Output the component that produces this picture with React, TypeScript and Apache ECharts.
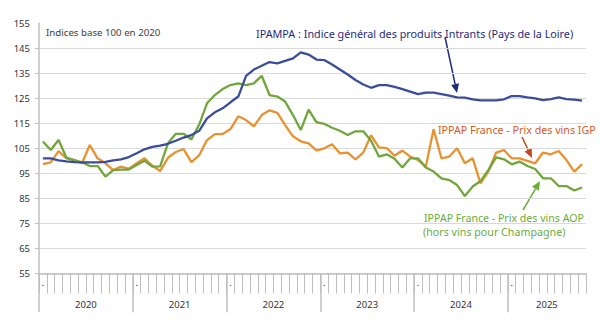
import React, { useEffect, useRef } from 'react';
import * as echarts from 'echarts';

const years = ['2020', '2021', '2022', '2023', '2024', '2025'];
const monthsInLastYear = 10;

// IPAMPA : Indice général des produits Intrants (Pays de la Loire)
const ipampa = [
  101, 101, 100.2, 99.8, 99.5, 99.4, 99.4, 99.4, 99.6, 100.2, 100.6, 101.5,
  103, 104.6, 105.6, 106.1, 106.8, 108, 109.3, 110.3, 112, 117, 119.4, 121,
  123.4, 125.7, 134, 136.5, 138, 139.5, 139, 140, 141, 143.4, 142.5, 140.5,
  140.3, 138.5, 136.5, 134.5, 132.3, 130.5, 129.2, 130.3, 130.3, 129.6, 128.7, 127.7,
  126.7, 127.3, 127.3, 126.7, 126.1, 125.4, 125.3, 124.6, 124.2, 124.2, 124.2, 124.6,
  125.9, 125.9, 125.4, 125, 124.3, 124.7, 125.4, 124.7, 124.5, 124.1,
];

// IPPAP France - Prix des vins IGP
const vinsIGP = [
  98.7, 99.4, 103.9, 101, 100.3, 99, 106.3, 101, 99, 96.3, 97.7, 96.8,
  99, 101, 98, 95.9, 101.2, 103.5, 104.7, 99.5, 102.2, 108.3, 110.7, 110.7,
  112.7, 117.8, 116.3, 113.8, 118.3, 120.2, 119.2, 114.3, 109.8, 107.8, 107, 104.2,
  105, 106.6, 103, 103.3, 100.6, 103.3, 110.2, 105.4, 105.1, 102, 104.1, 101.7,
  100.3, 97.7, 112.6, 101, 101.7, 105, 99, 101, 91, 95.7, 103.3, 104.3,
  101, 101, 100, 99, 103.3, 102.6, 103.9, 100.3, 95.7, 98.7,
];

// IPPAP France - Prix des vins AOP (hors vins pour Champagne)
const vinsAOP = [
  107.7, 104.3, 108.3, 101.3, 100.3, 99.4, 97.9, 97.9, 93.7, 96.3, 96.5, 96.5,
  98.3, 100, 97.7, 97.8, 107, 110.8, 110.8, 108.5, 114.5, 123, 126.3, 128.7,
  130.3, 131, 130.3, 131, 134, 126.3, 125.7, 123.7, 118.3, 112.3, 120.5, 115.5,
  114.8, 113.2, 112, 110.3, 111.8, 111.8, 108, 101.7, 102.6, 100.8, 97.3, 101,
  101, 97.3, 95.7, 93, 92.3, 90.3, 85.9, 89.7, 91.9, 96.3, 101.4, 100.6,
  98.6, 99.7, 97.9, 96.7, 93, 93, 89.9, 89.9, 88.1, 89.3,
];

const yTickLabels = [55, 65, 75, 85, 95, 105, 115, 125, 135, 145, 155];

const months: string[] = [];
years.forEach((y, k) => {
  const n = k === years.length - 1 ? monthsInLastYear : 12;
  for (let m = 1; m <= n; m++) months.push(`${y}-${String(m).padStart(2, '0')}`);
});
const N = months.length;
const yearStarts = years.map((_, k) => k * 12);
const yearCenters = years.map((_, k) => (k * 12 + Math.min(k * 12 + 12, N)) / 2);

const FONT = 'Noto Sans';
const C_BLUE = '#3A4C9B';
const C_NAVY = '#1F2A7E';
const C_ORANGE = '#E8922F';
const C_ORANGE_TXT = '#D65A28';
const C_ORANGE_ARROW = '#C2481F';
const C_GREEN = '#70A63C';
const C_GREEN_TXT = '#6AAC3A';

function arrow(x1: number, y1: number, x2: number, y2: number, color: string) {
  const dx = x2 - x1, dy = y2 - y1, len = Math.hypot(dx, dy);
  const ux = dx / len, uy = dy / len;
  const hl = 9, hw = 4;
  const bx = x2 - ux * hl, by = y2 - uy * hl;
  return [
    { type: 'line', shape: { x1, y1, x2: bx, y2: by }, style: { stroke: color, lineWidth: 1.5 } },
    {
      type: 'polygon',
      shape: { points: [[x2, y2], [bx - uy * hw, by + ux * hw], [bx + uy * hw, by - ux * hw]] },
      style: { fill: color },
    },
  ];
}

function txt(x: number, y: number, text: string, color: string, size: number) {
  return {
    type: 'text', x, y,
    style: { text, fill: color, fontSize: size, fontFamily: FONT, verticalAlign: 'middle', align: 'left' },
  };
}

export default function App() {
  const ref = useRef<HTMLDivElement>(null);
  useEffect(() => {
    if (!ref.current) return;
    const chart = echarts.init(ref.current, undefined, { renderer: 'svg' });
    const option: any = {
      animation: false,
      grid: { left: 39, right: 14, top: 23.3, bottom: 52.7 },
      xAxis: [
        {
          type: 'category',
          data: months,
          boundaryGap: true,
          axisLine: { show: true, lineStyle: { color: '#BFBFBF', width: 1.5 } },
          axisTick: { show: true, interval: 0, length: 20, lineStyle: { color: '#BFBFBF', width: 1 } },
          axisLabel: {
            interval: 0, margin: 5, color: '#000', fontSize: 9, fontFamily: FONT,
            formatter: (_v: string, i: number) => (i % 12 === 0 ? '.' : ''),
          },
          splitLine: { show: false },
        },
        {
          type: 'value',
          min: 0,
          max: N,
          position: 'bottom',
          axisLine: { show: false },
          axisTick: { show: true, customValues: yearStarts, length: 39, lineStyle: { color: '#BFBFBF', width: 1.5 } },
          axisLabel: {
            customValues: yearCenters, margin: 26, color: '#333', fontSize: 9.5, fontFamily: FONT,
            formatter: (v: number) => years[yearCenters.indexOf(v)] ?? '',
          },
          splitLine: { show: false },
        },
      ],
      yAxis: {
        type: 'value',
        min: 55,
        max: 155,
        axisLine: { show: true, lineStyle: { color: '#BFBFBF', width: 1.5 } },
        axisTick: { show: true, customValues: yTickLabels.slice(0, -1), length: 4, lineStyle: { color: '#BFBFBF' } },
        axisLabel: { customValues: yTickLabels, margin: 9, color: '#333', fontSize: 9.5, fontFamily: FONT },
        splitLine: { show: true, lineStyle: { color: '#D9D9D9', width: 1 } },
      },
      series: [
        { name: 'IGP', type: 'line', data: vinsIGP, symbol: 'none', lineStyle: { color: C_ORANGE, width: 2.3 }, itemStyle: { color: C_ORANGE } },
        { name: 'AOP', type: 'line', data: vinsAOP, symbol: 'none', lineStyle: { color: C_GREEN, width: 2.3 }, itemStyle: { color: C_GREEN } },
        { name: 'IPAMPA', type: 'line', data: ipampa, symbol: 'none', lineStyle: { color: C_BLUE, width: 2.3 }, itemStyle: { color: C_BLUE } },
      ],
      graphic: [
        txt(46, 32.5, 'Indices base 100 en 2020', '#404040', 9.7),
        txt(256, 33.5, 'IPAMPA : Indice général des produits Intrants (Pays de la Loire)', C_NAVY, 10.8),
        txt(438, 130, 'IPPAP France - Prix des vins IGP', C_ORANGE_TXT, 10.7),
        txt(424, 218, 'IPPAP France - Prix des vins AOP', C_GREEN_TXT, 10.6),
        txt(423, 232, '(hors vins pour Champagne)', C_GREEN_TXT, 10.7),
        ...arrow(445, 37, 457, 93, C_NAVY),
        ...arrow(522, 137, 532, 158, C_ORANGE_ARROW),
        ...arrow(523, 210, 540, 181, C_GREEN_TXT),
      ],
    };
    chart.setOption(option);
    return () => chart.dispose();
  }, []);
  return <div ref={ref} style={{ position: 'fixed', left: 0, top: 0, width: 600, height: 326, background: '#fff' }} />;
}
